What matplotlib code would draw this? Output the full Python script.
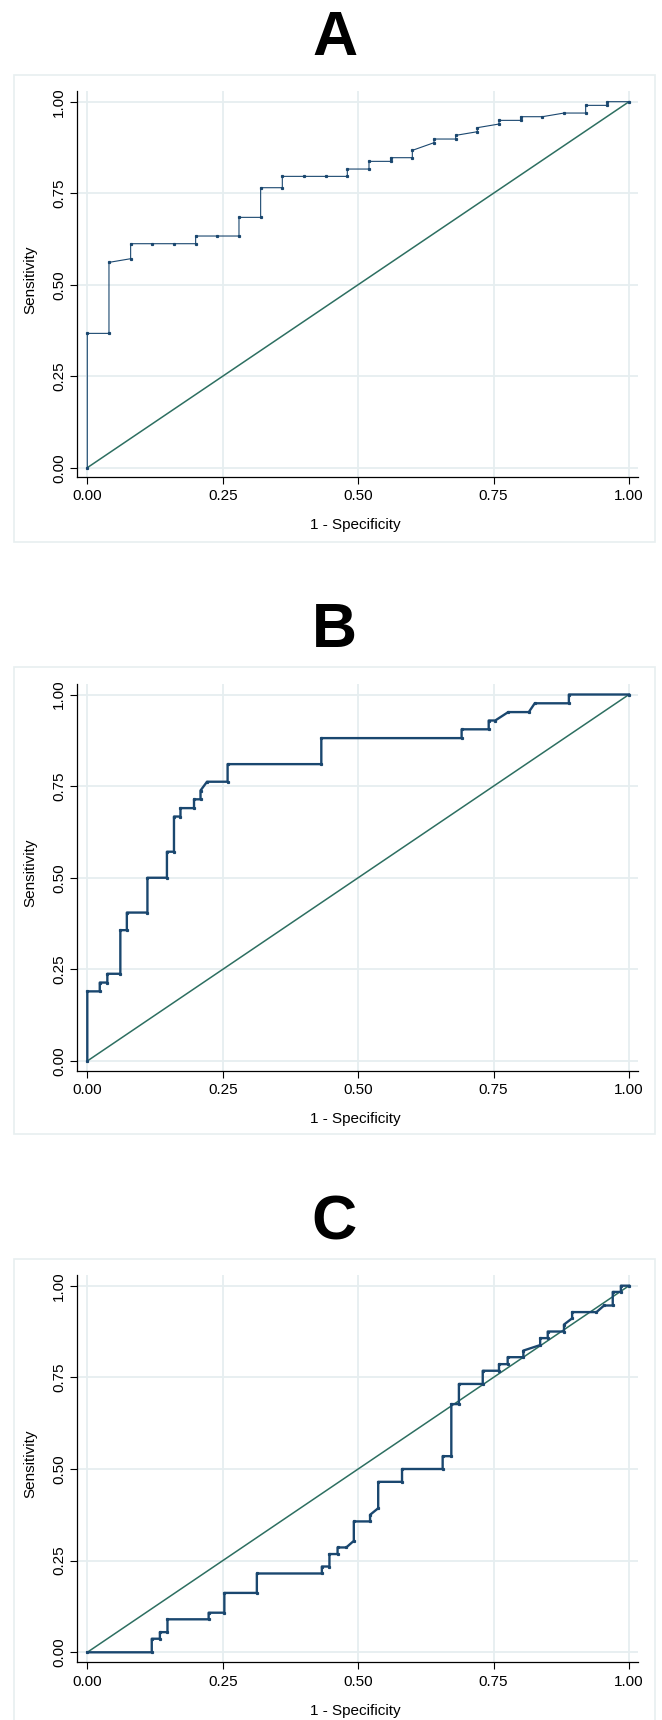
import matplotlib
matplotlib.use("Agg")
import matplotlib.pyplot as plt
from matplotlib.patches import Rectangle

plt.rcParams['font.family'] = ['Liberation Sans', 'DejaVu Sans']

# ---------------- data ----------------
panel_titles = ["A", "B", "C"]
tick_values = [0.0, 0.25, 0.5, 0.75, 1.0]
tick_labels = ["0.00", "0.25", "0.50", "0.75", "1.00"]
x_label = "1 - Specificity"
y_label = "Sensitivity"

A_fpr = [0, 0, 0.04, 0.04, 0.08, 0.08, 0.12, 0.16, 0.20, 0.20, 0.24, 0.28, 0.28,
         0.32, 0.32, 0.36, 0.36, 0.40, 0.44, 0.48, 0.48, 0.52, 0.52, 0.56, 0.56,
         0.60, 0.60, 0.64, 0.64, 0.68, 0.68, 0.72, 0.72, 0.76, 0.76, 0.80, 0.80,
         0.84, 0.88, 0.92, 0.92, 0.96, 0.96, 1.0]
A_tpr = [0, 0.367, 0.367, 0.561, 0.571, 0.612, 0.612, 0.612, 0.612, 0.633, 0.633, 0.633, 0.684,
         0.684, 0.765, 0.765, 0.796, 0.796, 0.796, 0.796, 0.816, 0.816, 0.837, 0.837, 0.847,
         0.847, 0.867, 0.888, 0.898, 0.898, 0.908, 0.918, 0.929, 0.939, 0.949, 0.949, 0.959,
         0.959, 0.969, 0.969, 0.990, 0.990, 1.0, 1.0]

B_fpr = [0, 0, 0.023, 0.023, 0.037, 0.037, 0.061, 0.061, 0.073, 0.073, 0.111, 0.111,
         0.147, 0.147, 0.160, 0.160, 0.172, 0.172, 0.197, 0.197, 0.209, 0.209, 0.221,
         0.259, 0.259, 0.432, 0.432, 0.691, 0.691, 0.741, 0.741, 0.753, 0.777, 0.815,
         0.826, 0.889, 0.889, 1.0]
B_tpr = [0, 0.190, 0.190, 0.214, 0.214, 0.238, 0.238, 0.357, 0.357, 0.405, 0.405, 0.500,
         0.500, 0.571, 0.571, 0.667, 0.667, 0.690, 0.690, 0.714, 0.714, 0.738, 0.762,
         0.762, 0.810, 0.810, 0.881, 0.881, 0.905, 0.905, 0.929, 0.929, 0.952, 0.952,
         0.976, 0.976, 1.0, 1.0]

C_fpr = [0, 0.119, 0.119, 0.134, 0.134, 0.148, 0.148, 0.224, 0.224, 0.253, 0.253, 0.313,
         0.313, 0.433, 0.433, 0.447, 0.447, 0.462, 0.462, 0.478, 0.492, 0.492, 0.522,
         0.522, 0.537, 0.537, 0.581, 0.581, 0.656, 0.656, 0.672, 0.672, 0.686, 0.686,
         0.730, 0.730, 0.760, 0.760, 0.776, 0.776, 0.805, 0.805, 0.836, 0.836, 0.850,
         0.850, 0.880, 0.880, 0.895, 0.895, 0.940, 0.954, 0.970, 0.970, 0.985, 0.985, 1.0]
C_tpr = [0, 0, 0.037, 0.037, 0.055, 0.055, 0.090, 0.090, 0.108, 0.108, 0.162, 0.162,
         0.215, 0.215, 0.234, 0.234, 0.268, 0.268, 0.286, 0.286, 0.304, 0.357, 0.357,
         0.375, 0.393, 0.465, 0.465, 0.500, 0.500, 0.535, 0.535, 0.677, 0.677, 0.732,
         0.732, 0.768, 0.768, 0.786, 0.786, 0.805, 0.805, 0.823, 0.838, 0.857, 0.857,
         0.875, 0.875, 0.894, 0.911, 0.928, 0.928, 0.946, 0.946, 0.983, 0.983, 1.0, 1.0]

ref_line = [0.0, 1.0]

curves = [(A_fpr, A_tpr), (B_fpr, B_tpr), (C_fpr, C_tpr)]

# ---------------- layout (pixels) ----------------
W, H = 662, 1720
fig = plt.figure(figsize=(W / 100, H / 100), dpi=100)
fig.patch.set_facecolor("white")

X0, X1 = 87.3, 629.0          # pixel of data x=0 and x=1
AX_L, AX_R = 77.3, 638.0      # axes left/right pixel
panels = [
    # (y data0 px, y data1 px, axes top, axes bottom, frame top, frame bottom)
    (467.7, 101.7, 91.0, 476.7, 75.0, 541.7),
    (1061.0, 694.5, 684.0, 1070.5, 667.0, 1134.0),
    (1652.3, 1285.7, 1275.0, 1662.0, 1259.0, 1730.0),
]
line_widths = [0.8, 1.7, 1.7]

grid_c = "#e6eef0"
curve_c = "#1a476f"
diag_c = "#2d6f61"
frame_c = "#e8eff0"

for i, (p, (fx, ty)) in enumerate(zip(panels, curves)):
    y0p, y1p, atop, abot, ftop, fbot = p
    # outer frame
    fig.patches.append(Rectangle((14 / W, 1 - fbot / H), (655 - 14) / W, (fbot - ftop) / H,
                                 transform=fig.transFigure, fill=False,
                                 edgecolor=frame_c, lw=1.2, zorder=0))
    fig.text(334.5 / W, 1 - (ftop - 20) / H, panel_titles[i], ha="center", va="baseline",
             fontsize=45, fontweight="bold", color="black")

    ax = fig.add_axes([AX_L / W, 1 - abot / H, (AX_R - AX_L) / W, (abot - atop) / H])
    xu = X1 - X0
    ax.set_xlim((AX_L - X0) / xu, (AX_R - X0) / xu)
    yu = y0p - y1p
    ax.set_ylim(-(abot - y0p) / yu, (y0p - atop) / yu)

    ax.set_xticks(tick_values)
    ax.set_xticklabels(tick_labels)
    ax.set_yticks(tick_values)
    ax.set_yticklabels(tick_labels, rotation=90, va="center")
    ax.tick_params(axis="both", direction="out", length=5, width=0.8, labelsize=11,
                   colors="black", pad=4)
    ax.tick_params(axis="y", pad=3)
    for s in ["top", "right"]:
        ax.spines[s].set_visible(False)
    for s in ["left", "bottom"]:
        ax.spines[s].set_linewidth(0.9)
        ax.spines[s].set_color("black")
    ax.grid(True, color=grid_c, lw=1.3)
    ax.set_axisbelow(True)

    ax.plot(ref_line, ref_line, color=diag_c, lw=1.1, zorder=2)
    ax.plot(fx, ty, color=curve_c, lw=line_widths[i], marker="s", ms=1.3,
            mec=curve_c, mfc=curve_c, zorder=3)

    # axis titles
    fig.text(30.5 / W, 1 - ((y0p + y1p) / 2 - 5) / H, y_label, rotation=90,
             ha="center", va="center", fontsize=11)
    fig.text(355 / W, 1 - (abot + 48.5) / H, x_label, ha="center", va="center",
             fontsize=11)

fig.savefig("out.png", dpi=100, facecolor="white")
